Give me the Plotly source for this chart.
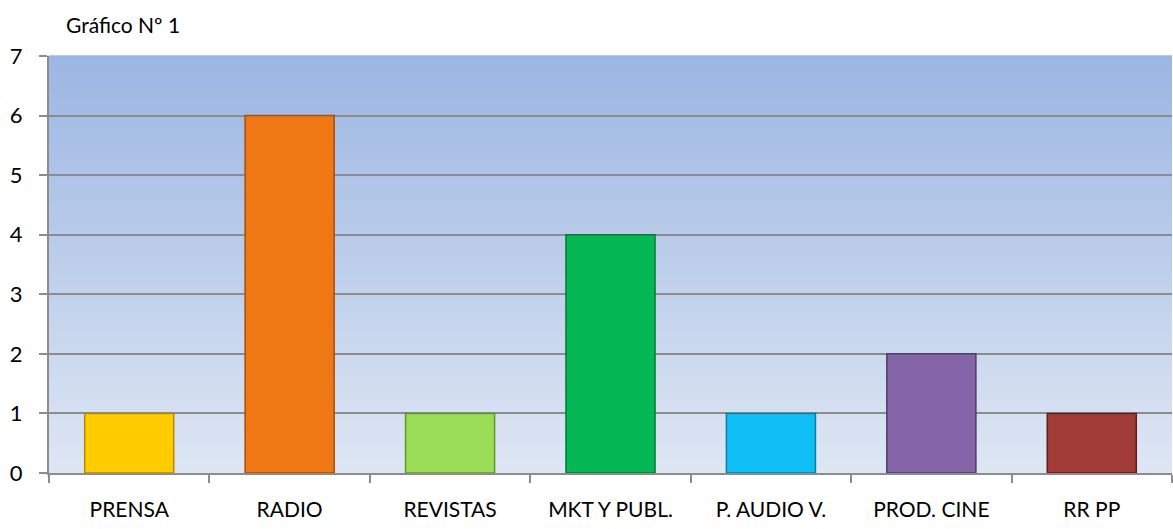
import plotly.graph_objects as go

categories = ["PRENSA", "RADIO", "REVISTAS", "MKT Y PUBL.", "P. AUDIO V.", "PROD. CINE", "RR PP"]
values = [1, 6, 1, 4, 1, 2, 1]
bar_colors = ["#FFCC00", "#F07814", "#9BDC58", "#06B853", "#10BFF5", "#8466A8", "#A13C38"]
bar_edges = ["#B38A00", "#A84E08", "#5E9A2A", "#03793A", "#0A7EA6", "#4E3C6C", "#5E1E1C"]
y_ticks = [0, 1, 2, 3, 4, 5, 6, 7]
title_text = "Gráfico Nº 1"

fig = go.Figure()
fig.add_trace(go.Bar(
    x=categories, y=values,
    marker=dict(color=bar_colors, line=dict(color=bar_edges, width=1.5)),
    width=0.555,
))

# vertical gradient background of plot area
top = (0x9C, 0xB6, 0xE3)
bot = (0xDE, 0xE6, 0xF3)
n = 80
shapes = []
for i in range(n):
    t = i / (n - 1)
    c = tuple(round(bot[k] + (top[k] - bot[k]) * t) for k in range(3))
    shapes.append(dict(type="rect", xref="paper", yref="paper",
                       x0=0, x1=1, y0=i / n, y1=(i + 1) / n + 0.002,
                       fillcolor="rgb(%d,%d,%d)" % c, line=dict(width=0), layer="below"))

fig.update_layout(
    width=1173, height=529,
    margin=dict(l=49, r=1, t=56, b=56),
    paper_bgcolor="white", plot_bgcolor="rgba(0,0,0,0)",
    shapes=shapes,
    showlegend=False,
    font=dict(family="Lato, 'Open Sans', sans-serif", color="#000000"),
    annotations=[dict(text=title_text, xref="paper", yref="paper", x=0.0134, y=1.0,
                      yshift=32, xanchor="left", yanchor="middle", showarrow=False,
                      font=dict(size=21, color="#000000"))],
    bargap=0.445,
)
fig.update_yaxes(range=[0, 7], tickvals=y_ticks, showgrid=True, gridcolor="#8C8C8C", gridwidth=2,
                 showline=True, linecolor="#8C8C8C", linewidth=2, ticks="outside", ticklen=8,
                 tickcolor="#8C8C8C", tickwidth=2, tickfont=dict(size=22), ticklabelstandoff=12,
                 zeroline=False)
fig.update_xaxes(showline=True, linecolor="#8C8C8C", linewidth=2, ticks="outside", ticklen=8,
                 tickcolor="#8C8C8C", tickwidth=2, tickson="boundaries", tickfont=dict(size=21),
                 ticklabelstandoff=17, showgrid=False)

fig.write_html("out.html", config={"displayModeBar": False},
               post_script="document.body.style.margin='0';document.body.style.overflow='hidden';")
